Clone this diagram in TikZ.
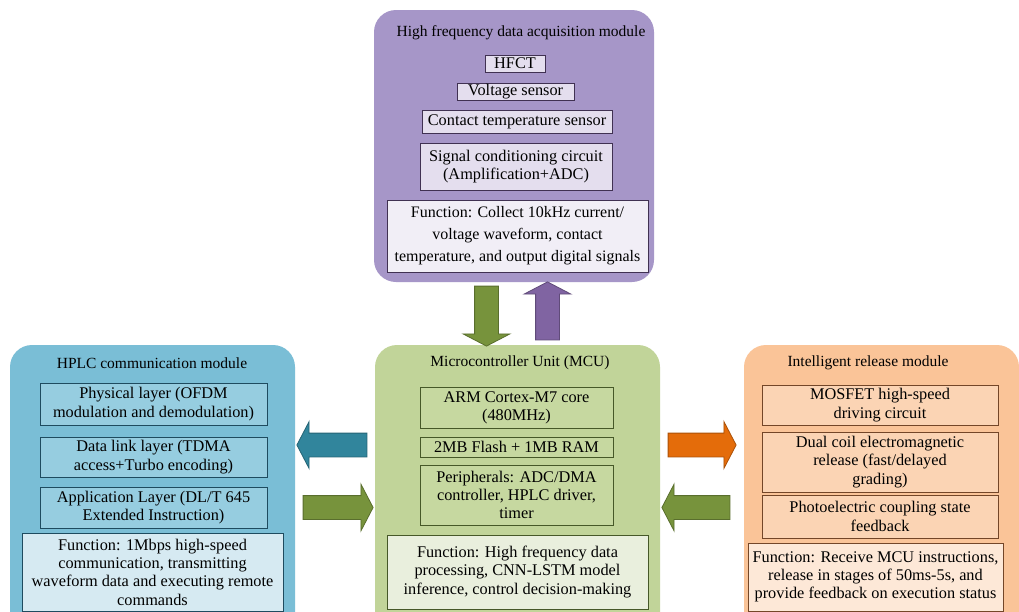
\documentclass[tikz,border=0pt]{standalone}
\usepackage{fontspec}
\setmainfont{Liberation Serif}
\usetikzlibrary{shapes.arrows}
\definecolor{pmod}{RGB}{166,150,200}
\definecolor{pin}{RGB}{228,222,238}
\definecolor{pfun}{RGB}{241,238,246}
\definecolor{pbd}{RGB}{64,49,82}
\definecolor{bmod}{RGB}{122,190,214}
\definecolor{bin}{RGB}{150,205,224}
\definecolor{bfun}{RGB}{214,234,242}
\definecolor{bbd}{RGB}{30,75,95}
\definecolor{gmod}{RGB}{193,212,153}
\definecolor{gin}{RGB}{198,216,160}
\definecolor{gfun}{RGB}{233,239,221}
\definecolor{gbd}{RGB}{70,88,40}
\definecolor{omod}{RGB}{250,196,152}
\definecolor{oin}{RGB}{251,212,180}
\definecolor{ofun}{RGB}{253,232,215}
\definecolor{obd}{RGB}{115,70,40}
\definecolor{tealA}{RGB}{49,133,156}
\definecolor{oliveA}{RGB}{119,147,60}
\definecolor{orangeA}{RGB}{228,108,10}
\definecolor{purpA}{RGB}{128,100,162}
\begin{document}
\begin{tikzpicture}[x=1pt,y=-1pt,
  module/.style={rounded corners=22pt, inner sep=0pt, draw=none},
  title/.style={inner sep=0pt, font=\fontsize{15.5}{17}\selectfont},
  item/.style={draw, line width=1pt, inner sep=1pt, align=center, font=\fontsize{16.3}{18.3}\selectfont},
  bigarrow/.style={single arrow, single arrow head extend=11.5pt,
    single arrow tip angle=125, inner sep=11.5pt, line width=0.8pt}]
\useasboundingbox (0,0) rectangle (1019,611);
\clip (0,0) rectangle (1019,611);
\fill[white] (0,0) rectangle (1019,611);

% ---- top module
\node[module, fill=pmod, minimum width=280pt, minimum height=272pt] (hfm) at (514,146) {};
\node[title] (hft) at (521,33) {High frequency data acquisition module};
\node[item, fill=pin, draw=pbd, minimum width=60pt, minimum height=17pt] (hfct) at (515,63.5) {HFCT};
\node[item, fill=pin, draw=pbd, minimum width=117pt, minimum height=17pt] (vs) at (515.5,91.5) {Voltage sensor};
\node[item, fill=pin, draw=pbd, minimum width=190pt, minimum height=23pt] (cts) at (517,121.5) {Contact temperature sensor};
\node[item, fill=pin, draw=pbd, minimum width=192pt, minimum height=47pt] (scc) at (516,166.5) {Signal conditioning circuit\\(Amplification+ADC)};
\node[item, fill=pfun, draw=pbd, minimum width=261pt, minimum height=72pt,
  font=\fontsize{16}{22}\selectfont] (hff) at (517.5,236) {Function: Collect 10kHz current/\\voltage waveform, contact\\temperature, and output digital signals};

% ---- center module
\node[module, fill=gmod, minimum width=285pt, minimum height=300pt] (mcu) at (517.5,495) {};
\node[title] (mcut) at (520,363) {Microcontroller Unit (MCU)};
\node[item, fill=gin, draw=gbd, minimum width=193pt, minimum height=41pt] (arm) at (516.5,407.5) {ARM Cortex-M7 core\\(480MHz)};
\node[item, fill=gin, draw=gbd, minimum width=193pt, minimum height=20pt] (mem) at (516.5,447) {2MB Flash + 1MB RAM};
\node[item, fill=gin, draw=gbd, minimum width=193pt, minimum height=60pt] (per) at (516.5,495) {Peripherals: ADC/DMA\\controller, HPLC driver,\\timer};
\node[item, fill=gfun, draw=gbd, minimum width=261pt, minimum height=74pt] (mcuf) at (517.5,572) {Function: High frequency data\\processing, CNN-LSTM model\\inference, control decision-making};

% ---- left module
\node[module, fill=bmod, minimum width=285pt, minimum height=300pt] (hplc) at (152.5,495) {};
\node[title] (hplct) at (152,363) {HPLC communication module};
\node[item, fill=bin, draw=bbd, minimum width=227pt, minimum height=42pt] (phy) at (153.5,404) {Physical layer (OFDM\\modulation and demodulation)};
\node[item, fill=bin, draw=bbd, minimum width=227pt, minimum height=40pt] (dll) at (153.5,457) {Data link layer (TDMA\\access+Turbo encoding)};
\node[item, fill=bin, draw=bbd, minimum width=227pt, minimum height=41pt] (app) at (153.5,507.5) {Application Layer (DL/T 645\\Extended Instruction)};
\node[item, fill=bfun, draw=bbd, minimum width=261pt, minimum height=78pt] (hplcf) at (152.5,572) {Function: 1Mbps high-speed\\communication, transmitting\\waveform data and executing remote\\commands};

% ---- right module
\node[module, fill=omod, minimum width=275pt, minimum height=300pt] (rel) at (881.5,495) {};
\node[title] (relt) at (868,363) {Intelligent release module};
\node[item, fill=oin, draw=obd, minimum width=236pt, minimum height=40pt] (mos) at (880,405) {MOSFET high-speed\\driving circuit};
\node[item, fill=oin, draw=obd, minimum width=236pt, minimum height=60pt] (coil) at (880,462) {Dual coil electromagnetic\\release (fast/delayed\\grading)};
\node[item, fill=oin, draw=obd, minimum width=236pt, minimum height=43pt] (pho) at (880,516.5) {Photoelectric coupling state\\feedback};
\node[item, fill=ofun, draw=obd, minimum width=255pt, minimum height=68pt] (relf) at (875.5,577) {Function: Receive MCU instructions,\\release in stages of 50ms-5s, and\\provide feedback on execution status};

% ---- block arrows
\node[bigarrow, fill=oliveA, draw=oliveA!75!black, minimum height=60pt, shape border rotate=270] (down) at (486.5,313) {};
\node[bigarrow, fill=purpA, draw=purpA!75!black, minimum height=58pt, shape border rotate=90] (up) at (547.5,314) {};
\node[bigarrow, fill=tealA, draw=tealA!75!black, minimum height=70pt, shape border rotate=180] (toh) at (335,445) {};
\node[bigarrow, fill=oliveA, draw=oliveA!75!black, minimum height=70pt] (fromh) at (335,507.5) {};
\node[bigarrow, fill=orangeA, draw=orangeA!75!black, minimum height=68pt] (tor) at (699,445) {};
\node[bigarrow, fill=oliveA, draw=oliveA!75!black, minimum height=68pt, shape border rotate=180] (fromr) at (699,507.5) {};
\end{tikzpicture}
\end{document}
